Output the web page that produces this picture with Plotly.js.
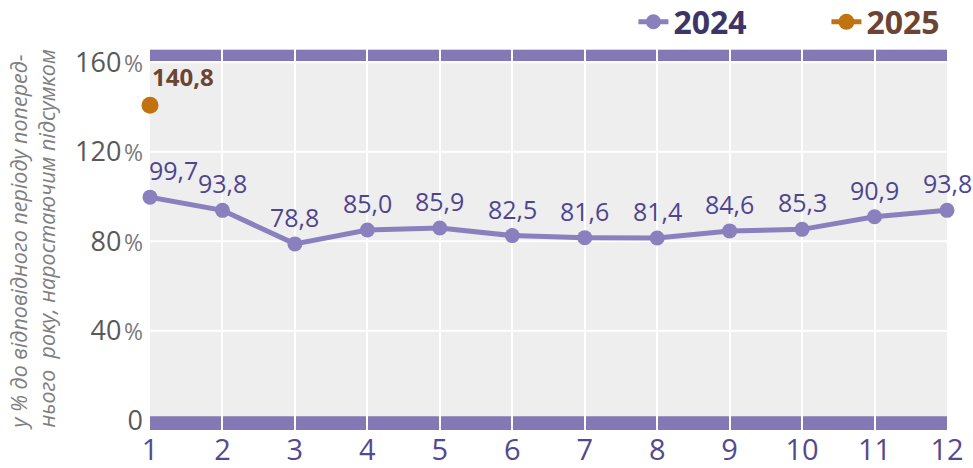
<!DOCTYPE html>
<html>
<head>
<meta charset="utf-8">
<script src="https://cdn.plot.ly/plotly-3.0.1.min.js"></script>
<style>body{margin:0;padding:0;background:#fff;} #chart{width:973px;height:468px;}</style>
</head>
<body>
<div id="chart"></div>
<script>
var months = [1,2,3,4,5,6,7,8,9,10,11,12];
var values2024 = [99.7,93.8,78.8,85.0,85.9,82.5,81.6,81.4,84.6,85.3,90.9,93.8];
var months2025 = [1];
var values2025 = [140.8];
var yTickVals = [0,40,80,120,160];
var yTickLabels = ['0','40','80','120','160'];
var yTitle = 'у % до відповідного періоду поперед-<br>нього  року, наростаючим підсумком';

function fmt(v){ return v.toFixed(1).replace('.', ','); }

var FONT = 'Open Sans, DejaVu Sans, sans-serif';
var Y_MIN = -4.4, Y_MAX = 165.7;

var traces = [
  {
    x: months, y: values2024, name: "<span style='color:#3d3468'>2024</span>",
    type: 'scatter', mode: 'lines+markers',
    line: {color:'#8a80bd', width:5},
    marker: {color:'#8a80bd', size:15},
    cliponaxis: false
  },
  {
    x: months2025, y: values2025, name: "<span style='color:#6b4433'>2025</span>",
    type: 'scatter', mode: 'lines+markers',
    line: {color:'#c0730f', width:5},
    marker: {color:'#c0730f', size:17},
    cliponaxis: false
  }
];

var annotations = [];
months.forEach(function(m,i){
  annotations.push({
    x: m, y: values2024[i], xref:'x', yref:'y', text: fmt(values2024[i]), showarrow:false,
    xanchor: i===0 ? 'left' : 'center', xshift: i===0 ? -3 : 0, yanchor:'middle', yshift: 27,
    font: {family: FONT, size: 25, color:'#4e4590'}
  });
});
months2025.forEach(function(m,i){
  annotations.push({
    x: m, y: values2025[i], xref:'x', yref:'y', text: '<b>'+fmt(values2025[i])+'</b>', showarrow:false,
    xanchor:'left', yanchor:'middle', yshift: 29, xshift: 0,
    font: {family: FONT, size: 24, color:'#6b4433'}
  });
});
annotations.push({text: yTitle, xref:'paper', yref:'paper', x:-0.147, y:0.5, xanchor:'center', yanchor:'middle',
  textangle:-90, showarrow:false, align:'left',
  font:{family: FONT, size:21.5, color:'#7f7f7f', style:'italic'}});

var shapes = yTickVals.filter(function(v){return v>0;}).map(function(v){
  return {type:'line', xref:'paper', yref:'y', x0:0, x1:1, y0:v, y1:v, line:{color:'#ffffff', width:2}, layer:'below'};
});
shapes.push({type:'rect', xref:'x', yref:'y', x0:months[0], x1:months[months.length-1], y0:160.6, y1:Y_MAX, fillcolor:'#8479b5', line:{width:0}, layer:'below'});
shapes.push({type:'rect', xref:'x', yref:'y', x0:months[0], x1:months[months.length-1], y0:Y_MIN, y1:1.75, fillcolor:'#8479b5', line:{width:0}, layer:'below'});

var layout = {
  width: 973, height: 468,
  margin: {l:150, r:26, t:43, b:38},
  paper_bgcolor: '#ffffff',
  plot_bgcolor: '#eeeeee',
  font: {family: FONT},
  showlegend: true,
  legend: {
    orientation: 'h', xref:'container', yref:'container', x: 0.651, xanchor: 'left', y: 0.953, yanchor: 'middle',
    font: {family: FONT, size: 32, weight: 'bold'},
    entrywidth: 148, entrywidthmode: 'pixels',
    bgcolor: 'rgba(0,0,0,0)', traceorder: 'normal'
  },
  xaxis: {
    range: [months[0], months[months.length-1]], tickvals: months, ticktext: months.map(String),
    showgrid: true, gridcolor: '#ffffff', gridwidth: 2,
    zeroline: false, showline: false, ticks: '',
    tickfont: {family: FONT, size: 29, color:'#54498f'},
    fixedrange: true
  },
  yaxis: {
    range: [Y_MIN, Y_MAX], tickvals: yTickVals,
    ticktext: yTickLabels.map(function(t){ return t==='0' ? t : t+"<span style='font-size:10px'> </span><span style='font-size:23px;fill:#7a7a7a'>%</span>"; }),
    showgrid: false,
    zeroline: false, showline: false, ticks: '',
    ticklabelstandoff: 6,
    tickfont: {family: FONT, size: 27, color:'#595959'},
    fixedrange: true
  },
  shapes: shapes,
  annotations: annotations
};

Plotly.newPlot('chart', traces, layout, {displayModeBar:false, staticPlot:true});
</script>
</body>
</html>
